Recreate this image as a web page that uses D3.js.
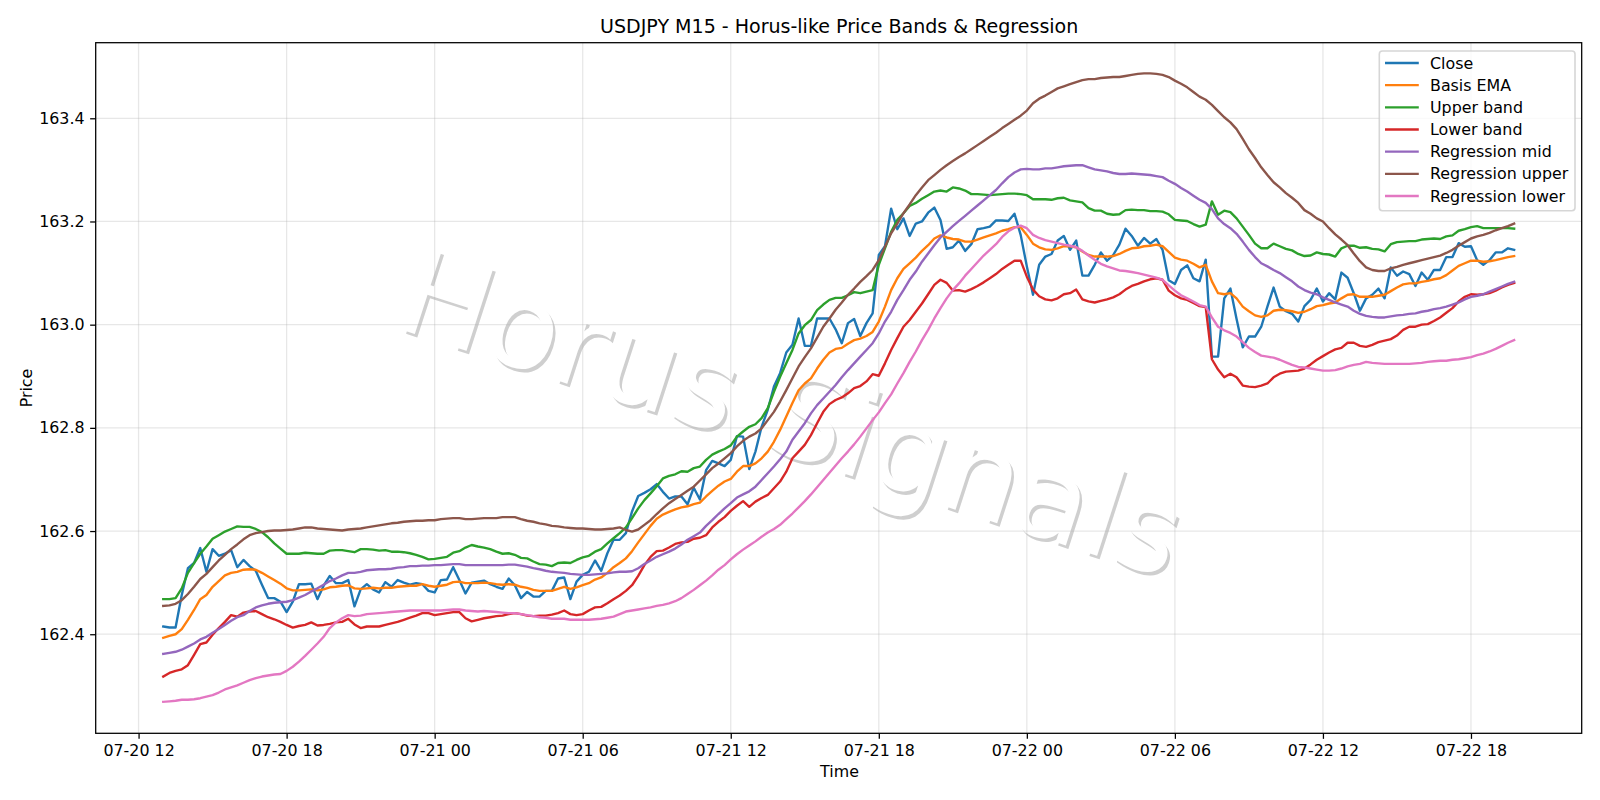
<!DOCTYPE html>
<html>
<head>
<meta charset="utf-8">
<title>USDJPY M15</title>
<script src="https://cdn.jsdelivr.net/npm/d3@7"></script>
<style>
  html, body { margin: 0; padding: 0; background: #fff; }
  svg { display: block; }
  text { font-family: "DejaVu Sans", sans-serif; fill: #000; }
</style>
</head>
<body>
<svg id="chart" width="1600" height="800"></svg>
<script>
// Quarter-hour series, first bar at 2024-07-20 13:00
const close = [
162.415,162.413,162.413,162.476,162.528,162.538,162.567,162.521,162.565,162.552,
162.556,162.563,162.530,162.544,162.532,162.523,162.496,162.470,162.470,162.463,
162.443,162.463,162.497,162.497,162.498,162.468,162.494,162.513,162.499,162.499,
162.505,162.454,162.487,162.497,162.487,162.481,162.501,162.492,162.505,162.500,
162.496,162.499,162.497,162.484,162.481,162.505,162.506,162.530,162.505,162.479,
162.500,162.502,162.504,162.497,162.492,162.488,162.508,162.495,162.470,162.482,
162.473,162.473,162.484,162.484,162.508,162.510,162.468,162.502,162.515,162.521,
162.543,162.523,162.557,162.583,162.583,162.596,162.638,162.668,162.674,162.681,
162.691,162.676,162.663,162.667,162.667,162.652,162.684,162.661,162.718,162.736,
162.731,162.726,162.738,162.784,162.783,162.720,162.754,162.802,162.835,162.880,
162.906,162.946,162.961,163.012,162.959,162.959,163.012,163.012,163.012,162.991,
162.964,163.003,163.011,162.978,163.003,163.022,163.135,163.152,163.225,163.185,
163.206,163.172,163.196,163.200,163.217,163.227,163.203,163.147,163.150,163.163,
163.143,163.156,163.185,163.187,163.190,163.202,163.202,163.201,163.215,163.174,
163.113,163.058,163.116,163.132,163.137,163.163,163.172,163.145,163.163,163.095,
163.095,163.116,163.140,163.124,163.135,163.155,163.186,163.172,163.153,163.168,
163.157,163.166,163.145,163.086,163.079,163.106,163.115,163.090,163.084,163.126,
162.938,162.938,163.051,163.070,163.011,162.956,162.977,162.977,162.996,163.035,
163.072,163.035,163.026,163.021,163.006,163.036,163.048,163.070,163.045,163.061,
163.049,163.101,163.091,163.061,163.027,163.051,163.058,163.070,163.051,163.111,
163.095,163.103,163.098,163.075,163.101,163.087,163.106,163.106,163.131,163.131,
163.158,163.151,163.152,163.125,163.116,163.125,163.140,163.140,163.148,163.145];

const basisEma = [
162.393,162.397,162.400,162.410,162.428,162.447,162.468,162.476,162.492,162.503,
162.514,162.519,162.521,162.525,162.526,162.525,162.519,162.512,162.505,162.498,
162.489,162.485,162.485,162.486,162.487,162.485,162.487,162.491,162.492,162.494,
162.495,162.489,162.488,162.489,162.490,162.489,162.490,162.490,162.492,162.493,
162.494,162.494,162.497,162.494,162.492,162.494,162.496,162.501,162.502,162.499,
162.499,162.499,162.500,162.499,162.497,162.496,162.497,162.496,162.492,162.490,
162.486,162.484,162.484,162.484,162.488,162.492,162.488,162.491,162.495,162.499,
162.506,162.510,162.519,162.530,162.538,162.547,162.561,162.578,162.594,162.610,
162.624,162.632,162.637,162.642,162.646,162.648,162.652,162.655,162.667,162.678,
162.688,162.696,162.701,162.715,162.726,162.726,162.731,162.741,162.754,162.773,
162.796,162.822,162.848,162.873,162.886,162.896,162.915,162.932,162.946,162.953,
162.955,162.963,162.970,162.973,162.978,162.986,163.006,163.035,163.067,163.090,
163.108,163.119,163.130,163.143,163.154,163.167,163.173,163.169,163.166,163.165,
163.161,163.161,163.165,163.169,163.173,163.177,163.182,163.185,163.189,163.189,
163.174,163.157,163.150,163.146,163.145,163.148,163.152,163.152,163.150,163.142,
163.135,163.132,163.132,163.132,163.133,163.137,163.143,163.148,163.149,163.152,
163.153,163.155,163.152,163.141,163.130,163.126,163.124,163.118,163.111,163.116,
163.084,163.061,163.059,163.061,163.051,163.035,163.026,163.018,163.015,163.018,
163.027,163.029,163.028,163.026,163.023,163.025,163.030,163.036,163.038,163.041,
163.043,163.051,163.058,163.059,163.054,163.054,163.054,163.056,163.058,163.065,
163.072,163.078,163.080,163.080,163.083,163.085,163.088,163.090,163.096,163.105,
163.114,163.119,163.124,163.124,163.122,163.123,163.125,163.128,163.131,163.133];

const upperBand = [
162.468,162.468,162.470,162.489,162.519,162.538,162.556,162.570,162.585,162.592,
162.599,162.604,162.609,162.608,162.608,162.604,162.598,162.588,162.576,162.566,
162.556,162.556,162.556,162.558,162.557,162.556,162.556,162.562,162.563,162.563,
162.561,162.559,162.565,162.565,162.564,162.562,162.563,162.560,162.560,162.559,
162.557,162.554,162.550,162.545,162.546,162.548,162.550,162.558,162.561,162.568,
162.573,162.570,162.568,162.565,162.560,162.556,162.557,162.554,162.548,162.547,
162.541,162.536,162.535,162.532,162.538,162.539,162.538,162.544,162.549,162.552,
162.560,162.565,162.576,162.586,162.596,162.607,162.625,162.644,162.660,162.673,
162.687,162.702,162.707,162.710,162.716,162.715,162.722,162.725,162.738,162.748,
162.754,162.759,162.766,162.783,162.793,162.802,162.807,162.819,162.838,162.870,
162.899,162.925,162.951,162.983,162.999,163.009,163.028,163.039,163.048,163.052,
163.052,163.057,163.063,163.061,163.064,163.067,163.116,163.148,163.180,163.203,
163.216,163.230,163.236,163.244,163.251,163.258,163.260,163.258,163.266,163.264,
163.260,163.253,163.253,163.252,163.251,163.252,163.253,163.254,163.254,163.253,
163.251,163.243,163.243,163.243,163.242,163.245,163.246,163.241,163.239,163.237,
163.226,163.221,163.221,163.215,163.213,163.214,163.222,163.223,163.222,163.222,
163.220,163.220,163.219,163.214,163.203,163.202,163.201,163.195,163.190,163.194,
163.239,163.213,163.221,163.218,163.206,163.190,163.174,163.157,163.148,163.148,
163.157,163.152,163.147,163.144,163.137,163.133,163.134,163.140,163.137,163.136,
163.132,163.148,163.153,163.153,163.149,163.150,163.147,163.146,163.142,163.156,
163.160,163.161,163.162,163.162,163.165,163.166,163.167,163.166,163.171,163.173,
163.182,163.185,163.189,163.191,163.187,163.187,163.187,163.187,163.187,163.186];

const lowerBand = [
162.318,162.325,162.329,162.332,162.340,162.360,162.381,162.384,162.399,162.412,
162.424,162.437,162.434,162.442,162.444,162.445,162.439,162.433,162.429,162.424,
162.418,162.413,162.416,162.418,162.423,162.417,162.418,162.420,162.423,162.424,
162.430,162.419,162.412,162.415,162.415,162.415,162.418,162.421,162.424,162.428,
162.432,162.436,162.441,162.441,162.437,162.439,162.441,162.443,162.443,162.431,
162.425,162.428,162.431,162.433,162.435,162.436,162.439,162.441,162.439,162.436,
162.435,162.436,162.436,162.438,162.441,162.446,162.439,162.437,162.439,162.446,
162.452,162.453,162.460,162.468,162.475,162.484,162.495,162.513,162.534,162.550,
162.561,162.562,162.568,162.575,162.578,162.579,162.585,162.587,162.592,162.607,
162.618,162.627,162.639,162.649,162.658,162.647,162.657,162.664,162.670,162.683,
162.696,162.715,162.741,162.754,162.767,162.786,162.809,162.831,162.846,162.854,
162.859,162.867,162.877,162.881,162.890,162.904,162.901,162.925,162.951,162.974,
162.996,163.009,163.025,163.041,163.059,163.077,163.087,163.081,163.066,163.067,
163.064,163.069,163.075,163.082,163.090,163.098,163.108,163.116,163.124,163.124,
163.093,163.068,163.055,163.049,163.047,163.051,163.059,163.061,163.068,163.049,
163.045,163.043,163.046,163.049,163.053,163.059,163.068,163.075,163.079,163.084,
163.088,163.090,163.087,163.066,163.057,163.051,163.048,163.042,163.036,163.034,
162.933,162.913,162.898,162.905,162.898,162.882,162.880,162.879,162.882,162.886,
162.898,162.905,162.909,162.910,162.911,162.915,162.923,162.932,162.939,162.946,
162.952,162.955,162.965,162.965,162.959,162.957,162.961,162.966,162.969,162.972,
162.979,162.990,162.996,162.996,163.000,163.001,163.007,163.014,163.023,163.032,
163.045,163.054,163.059,163.058,163.059,163.061,163.066,163.072,163.077,163.081];

const regressionMid = [
162.362,162.364,162.366,162.370,162.376,162.382,162.390,162.395,162.403,162.410,
162.418,162.426,162.433,162.437,162.445,162.452,162.456,162.459,162.461,162.462,
162.463,162.466,162.471,162.476,162.483,162.489,162.496,162.503,162.508,162.514,
162.519,162.519,162.521,162.524,162.525,162.526,162.526,162.527,162.529,162.530,
162.532,162.532,162.533,162.533,162.534,162.534,162.535,162.536,162.536,162.534,
162.534,162.534,162.534,162.534,162.534,162.534,162.535,162.535,162.533,162.531,
162.528,162.526,162.523,162.521,162.520,162.519,162.517,162.516,162.515,162.515,
162.516,162.517,162.518,162.520,162.521,162.521,162.522,162.528,162.536,162.543,
162.550,162.555,162.560,162.566,162.574,162.583,162.590,162.597,162.610,162.621,
162.633,162.644,162.654,162.665,162.671,162.677,162.686,162.699,162.712,162.725,
162.739,162.754,162.777,162.793,162.809,162.828,162.844,162.857,162.870,162.883,
162.898,162.912,162.925,162.938,162.951,162.964,162.983,163.006,163.025,163.048,
163.067,163.087,163.103,163.122,163.138,163.154,163.169,163.180,163.191,163.201,
163.211,163.221,163.231,163.241,163.251,163.261,163.274,163.286,163.295,163.301,
163.302,163.301,163.301,163.303,163.303,163.305,163.307,163.308,163.309,163.309,
163.305,163.301,163.299,163.297,163.294,163.292,163.292,163.293,163.292,163.291,
163.290,163.288,163.286,163.279,163.273,163.265,163.258,163.250,163.242,163.236,
163.224,163.206,163.195,163.187,163.176,163.161,163.145,163.131,163.119,163.113,
163.106,163.100,163.092,163.084,163.074,163.067,163.062,163.059,163.053,163.048,
163.043,163.039,163.035,163.027,163.021,163.017,163.015,163.014,163.014,163.016,
163.018,163.019,163.021,163.022,163.025,163.027,163.030,163.032,163.035,163.039,
163.043,163.049,163.054,163.056,163.059,163.064,163.069,163.074,163.079,163.083];

const regressionUpper = [
162.455,162.456,162.459,162.466,162.478,162.492,162.507,162.517,162.530,162.543,
162.554,162.565,162.574,162.584,162.592,162.596,162.598,162.600,162.601,162.601,
162.602,162.603,162.605,162.607,162.607,162.605,162.604,162.603,162.602,162.601,
162.603,162.604,162.605,162.607,162.609,162.611,162.613,162.615,162.616,162.618,
162.619,162.620,162.620,162.621,162.621,162.623,162.624,162.625,162.625,162.623,
162.623,162.624,162.625,162.625,162.625,162.627,162.627,162.627,162.623,162.620,
162.618,162.615,162.613,162.610,162.609,162.607,162.606,162.605,162.605,162.604,
162.603,162.603,162.604,162.605,162.607,162.602,162.599,162.603,162.612,162.621,
162.633,162.644,162.654,162.662,162.670,162.678,162.686,162.698,162.710,162.722,
162.731,162.741,162.751,162.764,162.775,162.783,162.789,162.799,162.815,162.831,
162.851,162.873,162.896,162.919,162.937,162.954,162.975,162.996,163.012,163.029,
163.043,163.058,163.070,163.083,163.094,163.106,163.125,163.151,163.177,163.196,
163.216,163.233,163.251,163.266,163.280,163.290,163.300,163.309,163.317,163.325,
163.332,163.340,163.348,163.356,163.364,163.372,163.381,163.389,163.397,163.405,
163.415,163.429,163.438,163.444,163.451,163.458,163.462,163.466,163.470,163.474,
163.476,163.476,163.478,163.479,163.480,163.480,163.482,163.484,163.486,163.487,
163.487,163.486,163.484,163.480,163.473,163.467,163.460,163.451,163.442,163.436,
163.426,163.414,163.402,163.392,163.379,163.360,163.340,163.323,163.305,163.290,
163.276,163.266,163.255,163.246,163.236,163.222,163.215,163.206,163.200,163.187,
163.175,163.165,163.154,163.138,163.123,163.111,163.106,163.104,163.104,163.109,
163.112,163.116,163.119,163.122,163.125,163.128,163.131,163.134,163.139,163.145,
163.153,163.160,163.167,163.171,163.174,163.178,163.183,163.187,163.191,163.196];

const regressionLower = [
162.269,162.270,162.271,162.273,162.273,162.274,162.276,162.279,162.282,162.287,
162.293,162.297,162.301,162.306,162.311,162.315,162.318,162.320,162.322,162.323,
162.329,162.337,162.347,162.358,162.370,162.382,162.395,162.412,162.423,162.431,
162.437,162.435,162.436,162.439,162.440,162.441,162.442,162.443,162.444,162.445,
162.446,162.446,162.446,162.446,162.446,162.446,162.447,162.448,162.448,162.446,
162.445,162.444,162.445,162.444,162.443,162.442,162.441,162.441,162.439,162.437,
162.435,162.433,162.432,162.430,162.430,162.430,162.428,162.428,162.428,162.428,
162.429,162.430,162.432,162.434,162.439,162.444,162.446,162.448,162.450,162.452,
162.455,162.457,162.460,162.464,162.470,162.478,162.486,162.495,162.504,162.514,
162.525,162.534,162.545,162.555,162.564,162.572,162.580,162.589,162.597,162.604,
162.612,162.623,162.634,162.646,162.658,162.671,162.685,162.699,162.713,162.727,
162.741,162.754,162.768,162.783,162.799,162.815,162.830,162.848,162.865,162.886,
162.906,162.928,162.948,162.970,162.990,163.012,163.032,163.051,163.067,163.080,
163.095,163.108,163.121,163.134,163.145,163.156,163.170,163.181,163.188,163.192,
163.187,163.174,163.168,163.164,163.161,163.158,163.155,163.153,163.150,163.143,
163.134,163.126,163.118,163.113,163.109,163.105,163.104,163.102,163.100,163.097,
163.094,163.091,163.087,163.076,163.066,163.057,163.051,163.045,163.038,163.035,
163.014,162.996,162.989,162.984,162.977,162.966,162.955,162.947,162.940,162.938,
162.936,162.932,162.927,162.922,162.918,162.917,162.915,162.913,162.911,162.911,
162.912,162.915,162.919,162.922,162.924,162.928,162.926,162.925,162.924,162.924,
162.924,162.924,162.924,162.925,162.926,162.928,162.929,162.930,162.930,162.932,
162.933,162.935,162.937,162.941,162.944,162.948,162.953,162.959,162.965,162.970];

// Legend order and colours
const seriesNames = ["Close", "Basis EMA", "Upper band", "Lower band", "Regression mid", "Regression upper", "Regression lower"];
const seriesColors = ["#1f77b4", "#ff7f0e", "#2ca02c", "#d62728", "#9467bd", "#8c564b", "#e377c2"];
const seriesValues = [close, basisEma, upperBand, lowerBand, regressionMid, regressionUpper, regressionLower];

const yTicks = [162.4, 162.6, 162.8, 163.0, 163.2, 163.4];
const xTickHours = [12, 18, 24, 30, 36, 42, 48, 54, 60, 66];
const watermarkText = "Horus Signals";
const chartTitle = "USDJPY M15 - Horus-like Price Bands & Regression";

const startBar = Date.UTC(2024, 6, 20, 13, 0);
const barMs = 15 * 60 * 1000;
const times = close.map((_, i) => new Date(startBar + i * barMs));

const plot = { left: 95.7, right: 1581.7, top: 42.7, bottom: 733.3 };
const pad = (times[times.length - 1] - times[0]) * 0.05;

const x = d3.scaleUtc()
  .domain([+times[0] - pad, +times[times.length - 1] + pad])
  .range([plot.left, plot.right]);

const y = d3.scaleLinear()
  .domain([162.208, 163.5465])
  .range([plot.bottom, plot.top]);

const svg = d3.select("#chart");

// Watermark: white lettering over an offset grey shadow, under the grid
const mark = svg.append("g").attr("font-size", 119);
[["#cfcfcf", 2.5, 3.5], ["#ffffff", 0, 0]].forEach(([fill, dx, dy]) => {
  mark.append("text")
    .attr("text-anchor", "middle")
    .attr("transform", `translate(${779.5 + dx},${452.5 + dy}) rotate(18)`)
    .style("fill", fill)
    .text(watermarkText);
});

// Grid
const xTickDates = xTickHours.map(h => new Date(Date.UTC(2024, 6, 20, h)));
const grid = svg.append("g")
  .attr("stroke", "#b0b0b0")
  .attr("stroke-opacity", 0.3)
  .attr("stroke-width", 1.27);
grid.selectAll(".gx").data(xTickDates).join("line")
  .attr("x1", d => x(d)).attr("x2", d => x(d))
  .attr("y1", plot.top).attr("y2", plot.bottom);
grid.selectAll(".gy").data(yTicks).join("line")
  .attr("x1", plot.left).attr("x2", plot.right)
  .attr("y1", d => y(d)).attr("y2", d => y(d));

// Series lines
const lineGen = d3.line()
  .x((_, i) => x(times[i]))
  .y(d => y(d));

svg.append("g")
  .selectAll("path")
  .data(seriesValues)
  .join("path")
  .attr("d", d => lineGen(d))
  .attr("fill", "none")
  .attr("stroke", (_, i) => seriesColors[i])
  .attr("stroke-width", 2.38)
  .attr("stroke-linejoin", "round")
  .attr("stroke-linecap", "square");

// Axes
const xAxis = d3.axisBottom(x)
  .tickValues(xTickDates)
  .tickFormat(d3.utcFormat("%m-%d %H"))
  .tickSize(5.56)
  .tickPadding(5.56);
const yAxis = d3.axisLeft(y)
  .tickValues(yTicks)
  .tickFormat(d3.format(".1f"))
  .tickSize(5.56)
  .tickPadding(5.56);

[
  svg.append("g").attr("transform", `translate(0,${plot.bottom})`).call(xAxis),
  svg.append("g").attr("transform", `translate(${plot.left},0)`).call(yAxis)
].forEach(g => {
  g.select(".domain").remove();
  g.selectAll(".tick line").attr("stroke", "#000").attr("stroke-width", 1.27);
  g.selectAll(".tick text").attr("font-size", 15.87).attr("font-family", "DejaVu Sans");
});

// Plot frame
svg.append("rect")
  .attr("x", plot.left).attr("y", plot.top)
  .attr("width", plot.right - plot.left).attr("height", plot.bottom - plot.top)
  .attr("fill", "none").attr("stroke", "#000").attr("stroke-width", 1.27);

// Title and axis labels
svg.append("text")
  .attr("x", (plot.left + plot.right) / 2 + 0.5).attr("y", 33)
  .attr("text-anchor", "middle").attr("font-size", 19.05)
  .text(chartTitle);
svg.append("text")
  .attr("x", (plot.left + plot.right) / 2 + 0.8).attr("y", 776.8)
  .attr("text-anchor", "middle").attr("font-size", 15.87)
  .text("Time");
svg.append("text")
  .attr("transform", "translate(31.5,388) rotate(-90)")
  .attr("text-anchor", "middle").attr("font-size", 15.87)
  .text("Price");

// Legend
const legend = svg.append("g");
legend.append("rect")
  .attr("x", 1379.3).attr("y", 51)
  .attr("width", 195.7).attr("height", 159.7)
  .attr("rx", 3.2).attr("ry", 3.2)
  .attr("fill", "#fff").attr("fill-opacity", 0.8)
  .attr("stroke", "#ccc").attr("stroke-opacity", 0.8).attr("stroke-width", 1.6);
const rows = legend.selectAll(".row").data(seriesNames).join("g")
  .attr("transform", (_, i) => `translate(0,${63 + i * 22.17})`);
rows.append("line")
  .attr("x1", 1386.2).attr("x2", 1417.6)
  .attr("stroke", (_, i) => seriesColors[i])
  .attr("stroke-width", 2.38)
  .attr("stroke-linecap", "square");
rows.append("text")
  .attr("x", 1430).attr("y", 5.6)
  .attr("font-size", 15.87)
  .text(d => d);
</script>
</body>
</html>
